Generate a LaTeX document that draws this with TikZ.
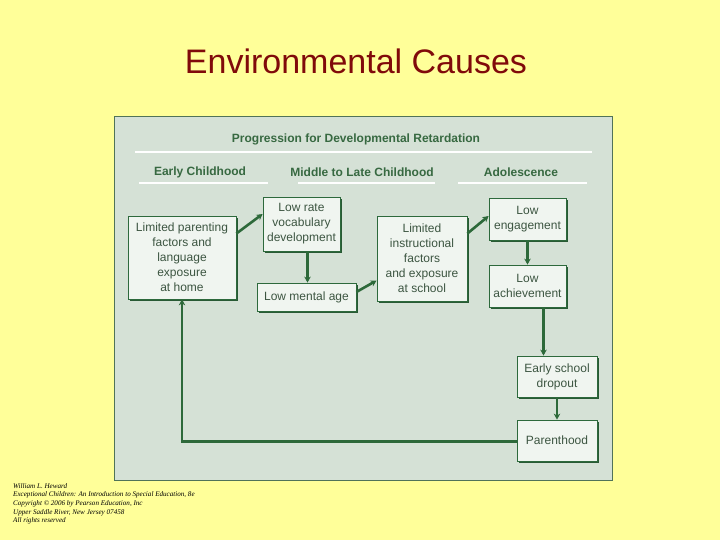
\documentclass[tikz,border=0pt]{standalone}
\usepackage{fontspec}
\setmainfont{Liberation Serif}
\setsansfont{Liberation Sans}
\usetikzlibrary{arrows.meta,shadows}
\definecolor{bgyellow}{RGB}{255,255,153}
\definecolor{panelfill}{RGB}{213,225,214}
\definecolor{panelline}{RGB}{80,115,88}
\definecolor{titlered}{RGB}{128,10,10}
\definecolor{headgreen}{RGB}{55,105,65}
\definecolor{boxfill}{RGB}{240,245,240}
\definecolor{boxline}{RGB}{45,105,60}
\definecolor{boxshadow}{RGB}{40,90,52}
\definecolor{boxtext}{RGB}{60,85,65}
\definecolor{arrgreen}{RGB}{45,105,58}
\tikzset{
  stagebox/.style={draw=boxline, line width=0.8pt, fill=boxfill, align=center,
    inner sep=1pt, text=boxtext, font=\sffamily\fontsize{12}{15}\selectfont,
    drop shadow={shadow xshift=1.8pt, shadow yshift=-1.8pt, fill=boxshadow, opacity=1}},
  arr/.style={draw=arrgreen, line width=2.6pt, -{Stealth[length=6pt,width=6.5pt]}},
  head/.style={text=headgreen, font=\sffamily\bfseries\fontsize{12}{14}\selectfont},
  rule/.style={draw=white, line width=1.2pt},
}
\begin{document}
\begin{tikzpicture}[x=1pt,y=-1pt]
\useasboundingbox (0,0) rectangle (720,540);
\fill[bgyellow] (0,0) rectangle (720,540);
\node[text=titlered, font=\sffamily\fontsize{34}{40}\selectfont] (title) at (356,61) {Environmental Causes};
\draw[fill=panelfill, draw=panelline, line width=0.8pt] (114,116) rectangle (612,480);
\node[head] (prog) at (356,139) {Progression for Developmental Retardation};
\draw[rule] (135,152) -- (592,152);
\node[head] (early) at (200,172) {Early Childhood};
\node[head] (middle) at (362,172) {Middle to Late Childhood};
\node[head] (adol) at (521,172) {Adolescence};
\draw[rule] (139,183) -- (268,183);
\draw[rule] (298,183) -- (435,183);
\draw[rule] (458,183) -- (587,183);

\node[stagebox, minimum width=108pt, minimum height=83pt] (b1) at (182,257.5) {Limited parenting\\factors and\\language\\exposure\\at home};
\node[stagebox, minimum width=77pt, minimum height=54pt] (b2) at (301.5,224) {Low rate\\vocabulary\\development};
\node[stagebox, minimum width=99pt, minimum height=28pt] (b3) at (306.5,297) {Low mental age};
\node[stagebox, minimum width=90pt, minimum height=85pt] (b4) at (422,258.5) {Limited\\instructional\\factors\\and exposure\\at school};
\node[stagebox, minimum width=77pt, minimum height=42pt] (b5) at (527.5,219) {Low\\engagement};
\node[stagebox, minimum width=77pt, minimum height=42pt] (b6) at (527.5,286) {Low\\achievement};
\node[stagebox, minimum width=80pt, minimum height=41pt] (b7) at (557,376.5) {Early school\\dropout};
\node[stagebox, minimum width=80pt, minimum height=41pt] (b8) at (557,440.5) {Parenthood};

\draw[arr] ([yshift=24pt]b1.east) -- ([yshift=10pt]b2.west);
\draw[arr] ([xshift=6pt]b2.south) -- ([xshift=6pt]b2.south |- b3.north);
\draw[arr] ([yshift=5pt]b3.east) -- ([yshift=-22pt]b4.west);
\draw[arr] ([yshift=25pt]b4.east) -- ([yshift=3pt]b5.west);
\draw[arr] (b5.south) -- (b6.north);
\draw[arr] ([xshift=16pt]b6.south) -- ([xshift=16pt]b6.south |- b7.north);
\draw[arr] (b7.south) -- (b8.north);
\draw[arr] ([yshift=-1pt]b8.west) -| (b1.south);

\node[anchor=north west, align=left, inner sep=0pt, font=\itshape\fontsize{7.1}{8.7}\selectfont] (credit) at (13,483)
{William L. Heward\\Exceptional Children: An Introduction to Special Education, 8e\\Copyright \textcopyright{} 2006 by Pearson Education, Inc\\Upper Saddle River, New Jersey 07458\\All rights reserved};
\end{tikzpicture}
\end{document}
